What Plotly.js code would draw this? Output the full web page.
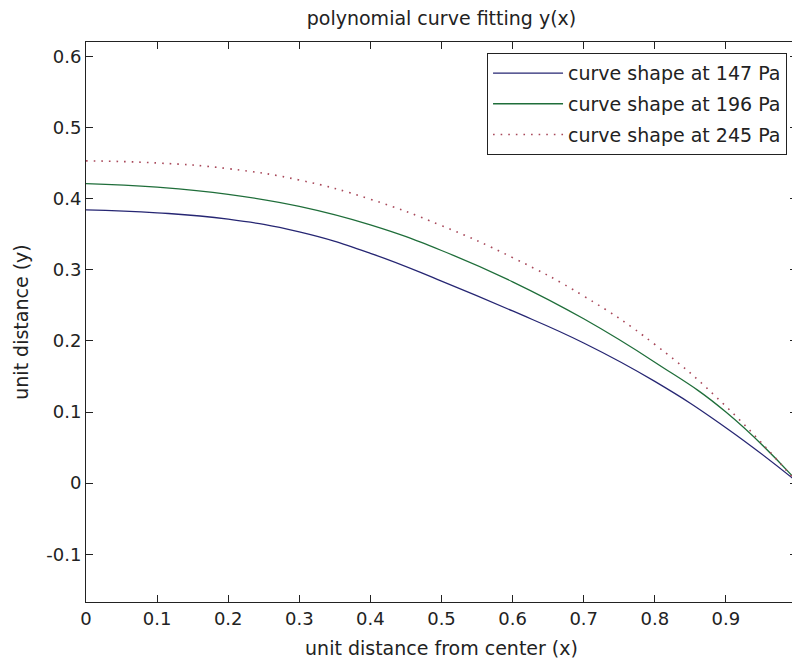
<!DOCTYPE html>
<html>
<head>
<meta charset="utf-8">
<script src="https://cdn.plot.ly/plotly-3.0.1.min.js"></script>
<style>
  html, body { margin: 0; padding: 0; overflow: hidden; background: #fff; }
  #chart { width: 800px; height: 664px; }
</style>
</head>
<body>
<div id="chart"></div>
<script>
// x positions (unit distance from center)
const xValues = [0, 0.1, 0.2, 0.3, 0.4, 0.5, 0.6, 0.7, 0.8, 0.9, 1.0];
// y values
const y147 = [0.384, 0.380, 0.371, 0.353, 0.323, 0.284, 0.242, 0.197, 0.143, 0.078, 0.002];
const y196 = [0.421, 0.416, 0.406, 0.389, 0.363, 0.327, 0.283, 0.231, 0.170, 0.100, 0.003];
const y245 = [0.453, 0.450, 0.442, 0.426, 0.399, 0.362, 0.317, 0.263, 0.195, 0.108, 0.001];
const seriesNames = ['curve shape at 147 Pa', 'curve shape at 196 Pa', 'curve shape at 245 Pa'];
const xTickVals = [0, 0.1, 0.2, 0.3, 0.4, 0.5, 0.6, 0.7, 0.8, 0.9, 1];
const xTickText = ['0', '0.1', '0.2', '0.3', '0.4', '0.5', '0.6', '0.7', '0.8', '0.9', '1'];
const yTickVals = [-0.1, 0, 0.1, 0.2, 0.3, 0.4, 0.5, 0.6];
const yTickText = ['-0.1', '0', '0.1', '0.2', '0.3', '0.4', '0.5', '0.6'];

const font = 'DejaVu Sans, Arial, sans-serif';

const traces = [
  { x: xValues, y: y147, name: seriesNames[0], legendgroup: 'a', mode: 'lines',
    line: { color: '#262673', width: 1.3, shape: 'spline', smoothing: 1.3 } },
  { x: xValues, y: y196, name: seriesNames[1], legendgroup: 'b', mode: 'lines',
    line: { color: '#1f6e3a', width: 1.3, shape: 'spline', smoothing: 1.3 } },
  { x: xValues, y: y245, name: seriesNames[2], legendgroup: 'c', mode: 'lines',
    line: { color: '#a8485a', width: 1.6, shape: 'spline', smoothing: 1.3, dash: '1.6px,6px' } }
];

const axisCommon = {
  showgrid: false, zeroline: false, showline: true, linecolor: '#222', linewidth: 1,
  mirror: 'ticks', ticks: 'inside', ticklen: 7, tickwidth: 1, tickcolor: '#222',
  tickfont: { family: font, size: 18, color: '#222' }
};

const layout = {
  width: 800, height: 664,
  margin: { l: 86, r: 3, t: 42, b: 62 },
  paper_bgcolor: '#fff', plot_bgcolor: '#fff',
  title: { text: 'polynomial curve fitting y(x)', font: { family: font, size: 19, color: '#222' },
           x: 0.5, xref: 'paper', y: 0.973, yanchor: 'middle' },
  xaxis: Object.assign({}, axisCommon, {
    range: [0, 1], tickvals: xTickVals, ticktext: xTickText,
    title: { text: 'unit distance from center (x)', font: { family: font, size: 19, color: '#222' }, standoff: 14 }
  }),
  yaxis: Object.assign({}, axisCommon, {
    range: [-0.167, 0.62], tickvals: yTickVals, ticktext: yTickText,
    title: { text: 'unit distance (y)', font: { family: font, size: 19, color: '#222' }, standoff: 12 }
  }),
  showlegend: true,
  legend: {
    x: 0.986, y: 0.98, xanchor: 'right', yanchor: 'top',
    bordercolor: '#222', borderwidth: 1, bgcolor: '#fff',
    font: { family: font, size: 19, color: '#222' },
    tracegroupgap: 3, itemwidth: 70
  }
};

Plotly.newPlot('chart', traces, layout, { displayModeBar: false, staticPlot: true });
</script>
</body>
</html>
